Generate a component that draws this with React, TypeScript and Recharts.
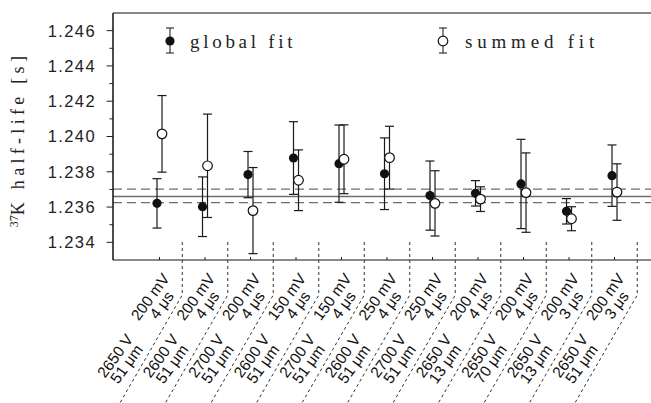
import React from "react";
import {
  ScatterChart,
  Scatter,
  XAxis,
  YAxis,
  ErrorBar,
  ReferenceLine,
  Legend,
} from "recharts";

// run settings per group (upper label row / lower label row)
const THRESHOLD_MV = [200, 200, 200, 150, 150, 250, 250, 200, 200, 200, 200];
const SHAPING_US = [4, 4, 4, 4, 4, 4, 4, 4, 4, 3, 3];
const VOLTAGE_V = [2650, 2600, 2700, 2600, 2700, 2600, 2700, 2650, 2650, 2650, 2650];
const GAP_UM = [51, 51, 51, 51, 51, 51, 51, 13, 70, 13, 51];

// half-life [s] and 1-sigma errors
const GLOBAL_FIT = [1.23621, 1.23602, 1.23784, 1.23878, 1.23846, 1.23789, 1.23665, 1.23678, 1.23731, 1.23576, 1.23778];
const GLOBAL_ERR = [0.0014, 0.00169, 0.00131, 0.00206, 0.00219, 0.00203, 0.00196, 0.00072, 0.00253, 0.00072, 0.00174];
const SUMMED_FIT = [1.24015, 1.23834, 1.2358, 1.23752, 1.23871, 1.2388, 1.23621, 1.23645, 1.23682, 1.23534, 1.23685];
const SUMMED_ERR = [0.00217, 0.00293, 0.00244, 0.00172, 0.00195, 0.00178, 0.00185, 0.0007, 0.00225, 0.00068, 0.0016];

// weighted mean and its band
const MEAN = 1.2366;
const MEAN_HI = 1.23702;
const MEAN_LO = 1.23625;

const Y_MAJOR = [1.234, 1.236, 1.238, 1.24, 1.242, 1.244, 1.246];
const Y_MINOR = [1.235, 1.237, 1.239, 1.241, 1.243, 1.245];
const Y_DOMAIN = [1.233, 1.247];
const X_DOMAIN = [-1.022, 10.802];

const PAIR_OFFSET = 0.055; // global left, summed right of the group centre

const globalData = GLOBAL_FIT.map((y, i) => ({ x: i - PAIR_OFFSET, y, err: GLOBAL_ERR[i] }));
const summedData = SUMMED_FIT.map((y, i) => ({ x: i + PAIR_OFFSET, y, err: SUMMED_ERR[i] }));

// group centres + separators half-way between them
const xTicks: number[] = [];
THRESHOLD_MV.forEach((_, i) => {
  xTicks.push(i, i + 0.5);
});

const SERIF = "'Liberation Serif', serif";
const SANS = "'Liberation Sans', Arial, sans-serif";
const SLANT = Math.tan(Math.PI / 6);
const LABEL_ANGLE = -54;
const LINE_GAP = 14;

function FilledDot(props: any) {
  return <circle cx={props.cx} cy={props.cy} r={4.6} fill="#111" />;
}

function OpenDot(props: any) {
  return <circle cx={props.cx} cy={props.cy} r={4.8} fill="#fff" stroke="#111" strokeWidth={1.2} />;
}

function YTick({ x, y, payload }: any) {
  const major = Y_MAJOR.includes(payload.value);
  return (
    <g>
      <line x1={x - (major ? 6.5 : 3.5)} x2={x} y1={y} y2={y} stroke="#222" strokeWidth={1} />
      {major && (
        <text x={x - 17} y={y} dy="0.36em" textAnchor="end" fontFamily={SANS} fontSize={16.5} letterSpacing={1.4} fill="#222">
          {payload.value.toFixed(3)}
        </text>
      )}
    </g>
  );
}

function XTick({ x, y, payload }: any) {
  const v = payload.value;
  if (!Number.isInteger(v)) {
    const bend = y + 35;
    const bottom = y + 160;
    return (
      <path
        d={`M${x},${y - 18} L${x},${bend} L${x - (bottom - bend) * SLANT},${bottom}`}
        fill="none"
        stroke="#333"
        strokeWidth={1}
        strokeDasharray="3 3"
      />
    );
  }
  const txt = { fontFamily: SANS, fontSize: 15.5, fill: "#111", textAnchor: "middle" as const };
  return (
    <g>
      <line x1={x} x2={x} y1={y} y2={y - 3} stroke="#222" />
      <g transform={`translate(${x - 5},${y + 40}) rotate(${LABEL_ANGLE})`}>
        <text {...txt}>{`${THRESHOLD_MV[v]} mV`}</text>
        <text {...txt} y={LINE_GAP}>{`${SHAPING_US[v]} μs`}</text>
      </g>
      <g transform={`translate(${x - 40},${y + 99}) rotate(${LABEL_ANGLE})`}>
        <text {...txt}>{`${VOLTAGE_V[v]} V`}</text>
        <text {...txt} y={LINE_GAP}>{`${GAP_UM[v]} μm`}</text>
      </g>
    </g>
  );
}

function YLabel({ viewBox }: any) {
  const cx = 24;
  const cy = viewBox.y + viewBox.height / 2 + 3;
  return (
    <text
      transform={`translate(${cx},${cy}) rotate(-90)`}
      textAnchor="middle"
      dy="0.35em"
      fontFamily={SERIF}
      fontSize={18}
      letterSpacing={4.3}
      fill="#222"
    >
      <tspan fontSize={12} dy={-6} letterSpacing={0}>37</tspan>
      <tspan dy={6}>K half-life [s]</tspan>
    </text>
  );
}

function LegendMarks() {
  const item = (x: number, open: boolean, label: string, textX: number, ls: number) => (
    <g>
      <line x1={x} x2={x} y1={28} y2={53} stroke="#111" />
      <line x1={x - 4} x2={x + 4} y1={28} y2={28} stroke="#111" />
      <line x1={x - 4} x2={x + 4} y1={53} y2={53} stroke="#111" />
      {open ? (
        <circle cx={x} cy={41} r={4.8} fill="#fff" stroke="#111" strokeWidth={1.2} />
      ) : (
        <circle cx={x} cy={41} r={4.6} fill="#111" />
      )}
      <text x={textX} y={48} fontFamily={SERIF} fontSize={19} letterSpacing={ls} fill="#222">
        {label}
      </text>
    </g>
  );
  return (
    <svg width={651} height={60} style={{ display: "block" }}>
      {item(170, false, "global fit", 190, 3.7)}
      {item(443, true, "summed fit", 465, 4.8)}
    </svg>
  );
}

export default function App() {
  return (
    <div style={{ position: "absolute", left: 0, top: 0, background: "#fff" }}>
      <ScatterChart width={651} height={403} margin={{ top: 13, right: 0, bottom: 0, left: 0 }}>
        <XAxis
          dataKey="x"
          type="number"
          domain={X_DOMAIN}
          allowDataOverflow
          ticks={xTicks}
          interval={0}
          height={143}
          tickSize={0}
          tickMargin={0}
          tickLine={false}
          axisLine={{ stroke: "#8a8a8a", strokeWidth: 2 }}
          tick={<XTick />}
        />
        <YAxis
          dataKey="y"
          type="number"
          domain={Y_DOMAIN}
          allowDataOverflow
          ticks={[...Y_MAJOR, ...Y_MINOR]}
          interval={0}
          width={113}
          tickSize={0}
          tickMargin={0}
          tickLine={false}
          axisLine={{ stroke: "#111", strokeWidth: 1.5 }}
          tick={<YTick />}
          label={{ content: (p: any) => <YLabel {...p} /> }}
        />
        <ReferenceLine y={Y_DOMAIN[1]} stroke="#111" strokeWidth={1.2} />
        <ReferenceLine y={MEAN_HI} stroke="#6e6e6e" strokeWidth={1.3} strokeDasharray="9 5" />
        <ReferenceLine y={MEAN} stroke="#6e6e6e" strokeWidth={1.5} />
        <ReferenceLine y={MEAN_LO} stroke="#6e6e6e" strokeWidth={1.3} strokeDasharray="9 5" />
        <Scatter name="global fit" data={globalData} dataKey="y" isAnimationActive={false} shape={FilledDot}>
          <ErrorBar dataKey="err" direction="y" width={4.5} stroke="#1a1a1a" strokeWidth={1.2} />
        </Scatter>
        <Scatter name="summed fit" data={summedData} dataKey="y" isAnimationActive={false} shape={OpenDot}>
          <ErrorBar dataKey="err" direction="y" width={4.5} stroke="#1a1a1a" strokeWidth={1.2} />
        </Scatter>
        <Legend
          layout="horizontal"
          verticalAlign="middle"
          align="center"
          wrapperStyle={{ top: 0, left: 0, width: 651, height: 60 }}
          content={() => <LegendMarks />}
        />
      </ScatterChart>
    </div>
  );
}
